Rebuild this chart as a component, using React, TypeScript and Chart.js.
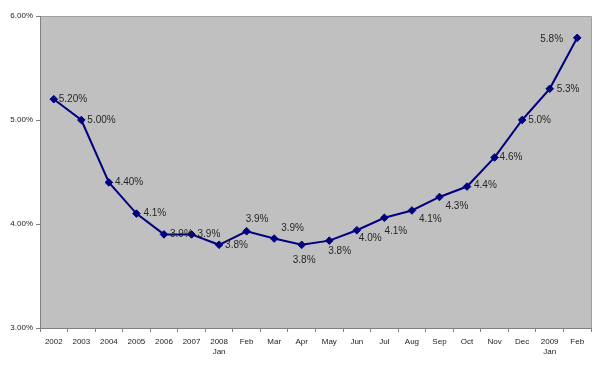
import React, { useEffect, useRef } from "react";
import { Chart, registerables } from "chart.js";

Chart.register(...registerables);

const categories: (string | string[])[] = [
  "2002", "2003", "2004", "2005", "2006", "2007", ["2008", "Jan"],
  "Feb", "Mar", "Apr", "May", "Jun", "Jul", "Aug", "Sep", "Oct", "Nov", "Dec",
  ["2009", "Jan"], "Feb",
];

const rates: number[] = [
  5.2, 5.0, 4.4, 4.1, 3.9, 3.9, 3.8,
  3.93, 3.86, 3.8, 3.84, 3.94, 4.06, 4.13, 4.26, 4.36, 4.64, 5.0,
  5.3, 5.79,
];

const rateLabels: string[] = [
  "5.20%", "5.00%", "4.40%", "4.1%", "3.9%", "3.9%", "3.8%",
  "3.9%", "3.9%", "3.8%", "3.8%", "4.0%", "4.1%", "4.1%", "4.3%", "4.4%", "4.6%", "5.0%",
  "5.3%", "5.8%",
];

// label offsets relative to each point (dx, dy) — styling only
const labelOffsets: [number, number][] = [
  [5, 0], [6, 0], [6, 0], [7, 0], [6, 0], [6, 0], [6, 0],
  [-1, -12], [7, -10], [-9, 15], [-1, 11], [2, 8], [0, 13], [7, 9], [6, 9], [7, -1], [5, 0], [6, 0],
  [7, 0], [-37, 1],
];

const yTicks = [3, 4, 5, 6];

const plotBg = {
  id: "plotBg",
  beforeDraw(chart: any) {
    const { ctx, chartArea } = chart;
    ctx.save();
    ctx.fillStyle = "#ffffff";
    ctx.fillRect(0, 0, chart.width, chart.height);
    ctx.fillStyle = "#C0C0C0";
    ctx.fillRect(chartArea.left, chartArea.top, chartArea.right - chartArea.left, chartArea.bottom - chartArea.top);
    ctx.strokeStyle = "#a0a0a0";
    ctx.lineWidth = 1;
    ctx.beginPath();
    ctx.moveTo(chartArea.left, chartArea.top + 0.5);
    ctx.lineTo(chartArea.right + 0.5, chartArea.top + 0.5);
    ctx.lineTo(chartArea.right + 0.5, chartArea.bottom);
    ctx.stroke();
    ctx.restore();
  },
};

const dataLabels = {
  id: "dataLabels",
  afterDatasetsDraw(chart: any) {
    const { ctx } = chart;
    const meta = chart.getDatasetMeta(0);
    ctx.save();
    ctx.font = "10px 'Liberation Sans', Arial, sans-serif";
    ctx.fillStyle = "#262626";
    ctx.textAlign = "left";
    ctx.textBaseline = "middle";
    meta.data.forEach((pt: any, i: number) => {
      const [dx, dy] = labelOffsets[i];
      ctx.fillText(rateLabels[i], pt.x + dx, pt.y + dy);
    });
    ctx.restore();
  },
};

export default function App() {
  const ref = useRef<HTMLCanvasElement>(null);
  useEffect(() => {
    document.body.style.margin = "0";
    const chart = new Chart(ref.current!, {
      type: "line",
      data: {
        labels: categories,
        datasets: [
          {
            data: rates,
            borderColor: "#000080",
            borderWidth: 2,
            pointStyle: "rectRot",
            pointRadius: 3.8,
            pointBackgroundColor: "#000080",
            pointBorderColor: "#000080",
            pointBorderWidth: 1,
            tension: 0,
          },
        ],
      },
      options: {
        animation: false,
        responsive: true,
        maintainAspectRatio: false,
        layout: { padding: { top: 16, right: 9, left: 0, bottom: 0 } },
        plugins: { legend: { display: false }, tooltip: { enabled: false } },
        scales: {
          x: {
            offset: true,
            grid: { offset: true, drawOnChartArea: false, tickLength: 4, color: "#808080" },
            border: { color: "#808080" },
            ticks: {
              color: "#222",
              font: { size: 8, family: "'Liberation Sans', Arial, sans-serif" },
              maxRotation: 0,
              autoSkip: false,
              padding: 5,
            },
            afterFit(scale: any) {
              scale.height = 40;
            },
          },
          y: {
            min: 3,
            max: 6,
            afterBuildTicks(scale: any) {
              scale.ticks = yTicks.map((v) => ({ value: v }));
            },
            grid: { drawOnChartArea: false, tickLength: 4, color: "#808080" },
            border: { color: "#808080" },
            ticks: {
              color: "#222",
              font: { size: 8, family: "'Liberation Sans', Arial, sans-serif" },
              padding: 3,
              callback: (v: any) => Number(v).toFixed(2) + "%",
            },
            afterFit(scale: any) {
              scale.width = 40;
            },
          },
        },
      },
      plugins: [plotBg, dataLabels],
    });
    return () => chart.destroy();
  }, []);
  return (
    <div style={{ position: "absolute", left: 0, top: 0, width: 600, height: 368 }}>
      <canvas ref={ref} />
    </div>
  );
}
